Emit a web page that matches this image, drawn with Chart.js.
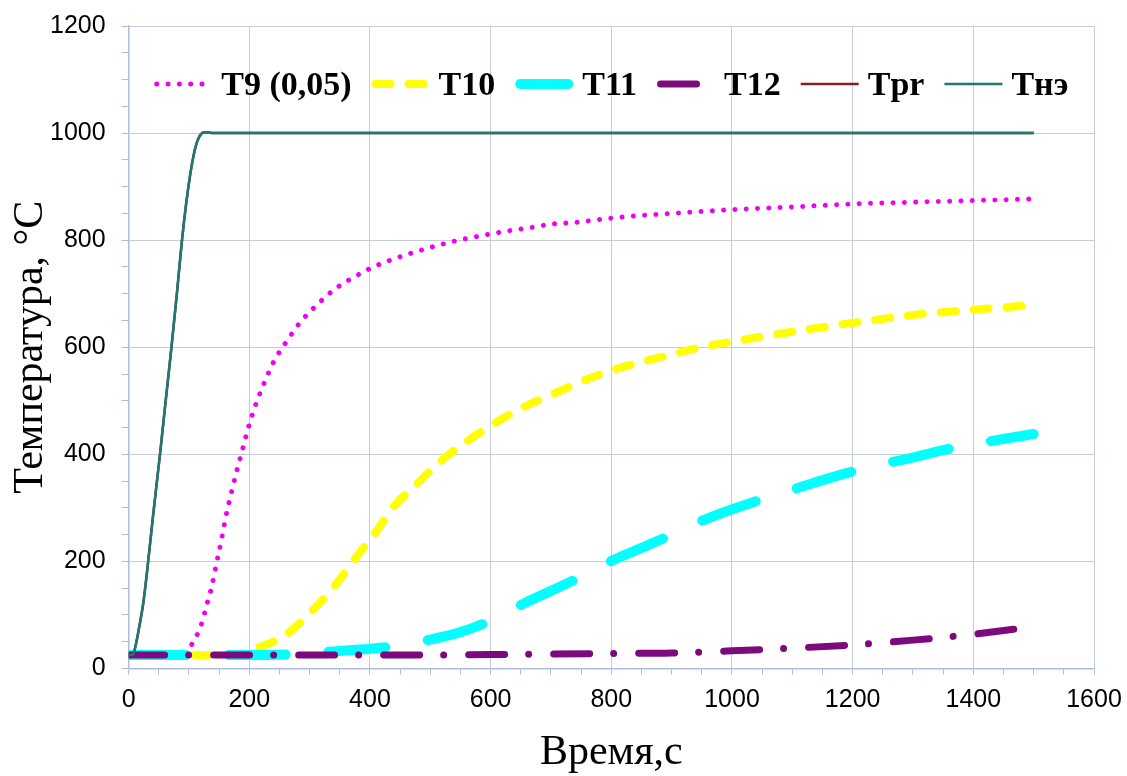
<!DOCTYPE html>
<html lang="ru">
<head>
<meta charset="utf-8">
<title>Температура</title>
<script src="https://cdn.jsdelivr.net/npm/chart.js@4.4.1/dist/chart.umd.min.js"></script>
<style>
  html, body { margin: 0; padding: 0; background: #ffffff; }
  canvas { display: block; }
</style>
</head>
<body>
<canvas id="chart" width="1127" height="776"></canvas>
<script>
// Axis tick labels (major ticks); minor ticks every 50 units
const xMajorTicks = [0, 200, 400, 600, 800, 1000, 1200, 1400, 1600];
const yMajorTicks = [0, 200, 400, 600, 800, 1000, 1200];
const minorStep = 50;

// Series labels
const seriesLabels = ['T9 (0,05)', 'T10', 'T11', 'T12', 'Tpr', 'Tнэ'];

// T9 (0,05): time, s / temperature, °C
const t9Time = [0, 60, 85, 92, 100, 108, 117, 123, 128, 133, 138, 146, 154, 161, 170, 179, 189, 199, 211, 225,
  241, 262, 284, 312, 340, 372, 406, 442, 478, 515, 551, 588, 627, 664, 701, 739, 776, 815, 900, 1000,
  1100, 1207, 1300, 1400, 1500];
const t9Temp = [25, 25, 25, 28, 38, 51, 72, 91, 113, 133, 154, 198, 241, 283, 327, 368, 410, 452, 494, 534,
  574, 611, 646, 679, 707, 730, 750, 766, 779, 791, 801, 809, 817, 823, 830, 833, 838, 843, 850, 857,
  862, 868, 871, 874, 877];

// T10
const t10Time = [0, 100, 160, 190, 212, 240, 262, 306, 345, 378, 408, 439, 478, 516, 555, 605, 654, 704, 748, 798,
  848, 898, 948, 997, 1050, 1147, 1230, 1307, 1400, 1467, 1500];
const t10Temp = [25, 25, 25, 29, 38, 50, 64, 110, 159, 209, 252, 302, 345, 386, 420, 457, 488, 513, 535, 556,
  572, 586, 600, 610, 620, 637, 650, 661, 670, 676, 679];

// T11
const t11Time = [0, 200, 280, 340, 400, 444, 500, 550, 580, 605, 656, 706, 756, 806, 856, 906, 959, 1020, 1083, 1139,
  1190, 1243, 1299, 1350, 1406, 1462, 1500];
const t11Temp = [25, 25, 27, 32, 37, 42, 54, 68, 80, 92, 122, 148, 175, 204, 228, 253, 280, 305, 328, 348,
  365, 380, 394, 408, 420, 431, 438];

// T12
const t12Time = [0, 400, 600, 700, 800, 900, 1000, 1100, 1200, 1300, 1400, 1500];
const t12Temp = [25, 25, 26, 27, 28, 29, 33, 38, 44, 53, 64, 78];

// Tpr (runs together with the heater curve)
const tprTime = [0, 7, 12, 18, 24, 30, 40, 52, 60, 71, 80, 88, 95, 102, 108, 113, 118, 124, 130, 140,
  200, 400, 600, 800, 1000, 1200, 1400, 1500];
const tprTemp = [25, 25, 45, 80, 120, 175, 280, 400, 485, 600, 700, 795, 865, 922, 960, 982, 995, 1001, 1001, 1000,
  1000, 1000, 1000, 1000, 1000, 1000, 1000, 1000];

// Tнэ (heater)
const tneTime = [0, 7, 12, 18, 24, 30, 40, 52, 60, 71, 80, 88, 95, 102, 108, 113, 118, 124, 130, 140,
  200, 400, 600, 800, 1000, 1200, 1400, 1500];
const tneTemp = [25, 25, 45, 80, 120, 175, 280, 400, 485, 600, 700, 795, 865, 922, 960, 982, 995, 1001, 1001, 1000,
  1000, 1000, 1000, 1000, 1000, 1000, 1000, 1000];

const toPoints = (xs, ys) => xs.map((x, i) => ({ x: x, y: ys[i] }));

const gridColor = '#c6cce0';
const axisColor = '#aebbdc';

function minorTicks(min, max) {
  const out = [];
  for (let v = min; v <= max; v += minorStep) out.push({ value: v });
  return out;
}

// Legend drawn inside the plot area, in one centred row
const inlineLegend = {
  id: 'inlineLegend',
  afterDraw(chart, args, opts) {
    const ctx = chart.ctx;
    const area = chart.chartArea;
    const sets = chart.data.datasets;
    ctx.save();
    ctx.font = opts.font;
    const widths = sets.map(ds => ctx.measureText(ds.label).width);
    const total = widths.reduce((s, w) => s + opts.sample + opts.gap + w, 0) + opts.spacing * (sets.length - 1);
    let x = (area.left + area.right) / 2 - total / 2 + opts.shiftX;
    const y = area.top + opts.offsetY;
    sets.forEach((ds, i) => {
      ctx.save();
      ctx.strokeStyle = ds.borderColor;
      ctx.lineWidth = ds.borderWidth;
      ctx.lineCap = ds.borderCapStyle || 'butt';
      ctx.setLineDash(ds.borderDash || []);
      const pad = ds.borderCapStyle === 'round' ? ds.borderWidth / 2 : 0;
      ctx.beginPath();
      ctx.moveTo(x + pad, y);
      ctx.lineTo(x + opts.sample - pad, y);
      ctx.stroke();
      ctx.restore();
      x += opts.sample + opts.gap;
      ctx.fillStyle = opts.color;
      ctx.textAlign = 'left';
      ctx.textBaseline = 'middle';
      ctx.fillText(ds.label, x, y + 2);
      x += widths[i] + opts.spacing;
    });
    ctx.restore();
  }
};

const baseLine = {
  pointRadius: 0,
  pointHoverRadius: 0,
  fill: false,
  cubicInterpolationMode: 'monotone',
  borderJoinStyle: 'round'
};

const datasets = [
  Object.assign({}, baseLine, {
    label: seriesLabels[0], data: toPoints(t9Time, t9Temp), order: 6,
    borderColor: '#f000f0', borderWidth: 5, borderDash: [0.01, 11.3], borderCapStyle: 'round'
  }),
  Object.assign({}, baseLine, {
    label: seriesLabels[1], data: toPoints(t10Time, t10Temp), order: 5,
    borderColor: '#ffff00', borderWidth: 8, borderDash: [15, 18], borderCapStyle: 'round'
  }),
  Object.assign({}, baseLine, {
    label: seriesLabels[2], data: toPoints(t11Time, t11Temp), order: 4,
    borderColor: '#00ffff', borderWidth: 10, borderDash: [57, 43], borderCapStyle: 'round'
  }),
  Object.assign({}, baseLine, {
    label: seriesLabels[3], data: toPoints(t12Time, t12Temp), order: 3,
    borderColor: '#7d0a7d', borderWidth: 7, borderDash: [36, 24, 0.01, 25], borderCapStyle: 'round'
  }),
  Object.assign({}, baseLine, {
    label: seriesLabels[4], data: toPoints(tprTime, tprTemp), order: 2,
    borderColor: '#852020', borderWidth: 2.5, borderCapStyle: 'butt'
  }),
  Object.assign({}, baseLine, {
    label: seriesLabels[5], data: toPoints(tneTime, tneTemp), order: 1,
    borderColor: '#1c7a72', borderWidth: 2.5, borderCapStyle: 'butt'
  })
];

new Chart(document.getElementById('chart'), {
  type: 'line',
  data: { datasets: datasets },
  plugins: [inlineLegend],
  options: {
    responsive: false,
    animation: false,
    devicePixelRatio: 1,
    layout: { padding: { top: 26, right: 33, bottom: 0, left: 0 } },
    plugins: {
      legend: { display: false },
      tooltip: { enabled: false },
      inlineLegend: {
        font: 'bold 34px "Liberation Serif", "DejaVu Serif", serif',
        color: '#000000',
        sample: 58, gap: 9, spacing: 20, offsetY: 58, shiftX: 0
      }
    },
    scales: {
      x: {
        type: 'linear',
        min: 0,
        max: 1600,
        afterBuildTicks: scale => { scale.ticks = minorTicks(0, 1600); },
        ticks: {
          autoSkip: false,
          maxRotation: 0,
          padding: 5,
          color: '#000000',
          font: { family: '"Liberation Sans", Arial, sans-serif', size: 25, lineHeight: 1.66 },
          callback: v => xMajorTicks.includes(v) ? String(v) : ''
        },
        grid: {
          color: c => (c.tick && xMajorTicks.includes(c.tick.value)) ? gridColor : 'rgba(0,0,0,0)',
          tickColor: axisColor,
          tickLength: 6,
          lineWidth: 1
        },
        border: { color: axisColor, width: 1.5 },
        title: {
          display: true,
          text: 'Время,с',
          color: '#000000',
          font: { family: '"Liberation Serif", "DejaVu Serif", serif', size: 42, lineHeight: '6px' },
          padding: { top: 24, bottom: 20 }
        }
      },
      y: {
        type: 'linear',
        min: 0,
        max: 1200,
        afterBuildTicks: scale => { scale.ticks = minorTicks(0, 1200); },
        ticks: {
          autoSkip: false,
          padding: 16,
          color: '#000000',
          font: { family: '"Liberation Sans", Arial, sans-serif', size: 25, lineHeight: 0.8 },
          callback: v => yMajorTicks.includes(v) ? String(v) : ''
        },
        grid: {
          color: c => (c.tick && yMajorTicks.includes(c.tick.value)) ? gridColor : 'rgba(0,0,0,0)',
          tickColor: axisColor,
          tickLength: 7,
          lineWidth: 1
        },
        border: { color: axisColor, width: 1.5 },
        title: {
          display: true,
          text: 'Температура, °С',
          color: '#000000',
          font: { family: '"Liberation Serif", "DejaVu Serif", serif', size: 42, lineHeight: '6px' },
          padding: { top: 28, bottom: 0 }
        }
      }
    }
  }
});
</script>
</body>
</html>
